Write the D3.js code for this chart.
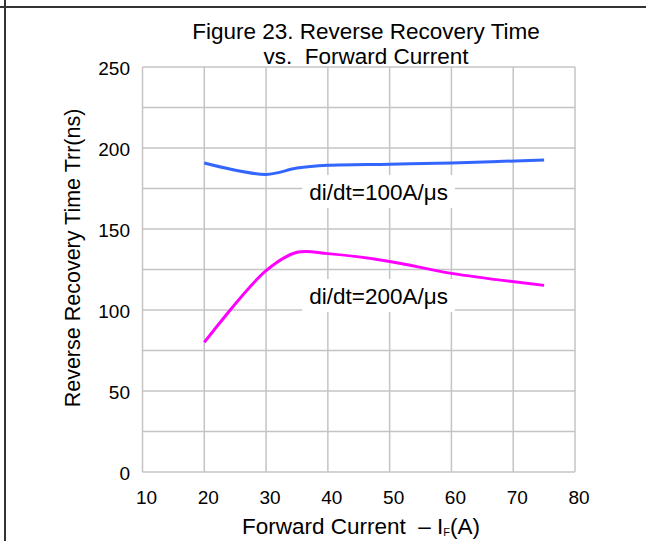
<!DOCTYPE html>
<meta charset="utf-8">
<script src="https://d3js.org/d3.v7.min.js"></script>
<style>
  body { margin: 0; background: #fff; }
  text { font-family: "Liberation Sans", Arial, sans-serif; fill: #000; }
</style>
<svg id="chart" width="646" height="541"></svg>
<script>

// data
var current  = [20, 30, 35, 40, 50, 60, 75];
var trr100   = [190.7, 183.7, 187.6, 189.3, 190.0, 190.8, 192.6];
var trr200   = [80.0, 124.3, 135.6, 134.8, 130.0, 122.6, 115.2];
var xTicks   = [10, 20, 30, 40, 50, 60, 70, 80];
var yTicks   = [0, 50, 100, 150, 200, 250];
var yGrid    = [0, 25, 50, 75, 100, 125, 150, 175, 200, 225, 250];
var labels   = ["di/dt=100A/\u03bcs", "di/dt=200A/\u03bcs"];
var labelPos = [[37.0, 167.9], [37.0, 103.7]];

var svg = d3.select("#chart");

var x = d3.scaleLinear().domain([10, 80]).range([142.5, 575]);
var y = d3.scaleLinear().domain([0, 250]).range([472, 67]);

// frame lines of the page
svg.append("line").attr("x1", 0).attr("x2", 646).attr("y1", 7).attr("y2", 7)
  .attr("stroke", "#333").attr("stroke-width", 2);
svg.append("line").attr("x1", 5).attr("x2", 5).attr("y1", 0).attr("y2", 541)
  .attr("stroke", "#333").attr("stroke-width", 2);

// grid
var grid = svg.append("g").attr("stroke", "#c4c4c4").attr("stroke-width", 1.5);
grid.selectAll(".v").data(xTicks).enter().append("line")
  .attr("x1", d => x(d)).attr("x2", d => x(d))
  .attr("y1", y(0)).attr("y2", y(250));
grid.selectAll(".h").data(yGrid).enter().append("line")
  .attr("x1", x(10)).attr("x2", x(80))
  .attr("y1", d => y(d)).attr("y2", d => y(d));

// tick labels
svg.selectAll(".xt").data(xTicks).enter().append("text")
  .attr("x", d => x(d) + 4).attr("y", 504)
  .attr("text-anchor", "middle").style("font-size", "19px")
  .text(d => d);
svg.selectAll(".yt").data(yTicks).enter().append("text")
  .attr("x", 130).attr("y", d => y(d) + 8)
  .attr("text-anchor", "end").style("font-size", "19px")
  .text(d => d);

// curves
var line = d3.line().curve(d3.curveCatmullRom.alpha(0.5))
  .x(d => x(d[0])).y(d => y(d[1]));

svg.append("path").datum(d3.zip(current, trr100))
  .attr("fill", "none").attr("stroke", "#3366ff").attr("stroke-width", 3)
  .attr("d", line);
svg.append("path").datum(d3.zip(current, trr200))
  .attr("fill", "none").attr("stroke", "#ff00ff").attr("stroke-width", 3)
  .attr("d", line);

// series labels on white boxes
labels.forEach(function(t, i) {
  var g = svg.append("g");
  var txt = g.append("text")
    .attr("x", x(labelPos[i][0])).attr("y", y(labelPos[i][1]))
    .style("font-size", "22.5px").text(t);
  var b = txt.node().getBBox();
  g.insert("rect", "text")
    .attr("x", b.x - 7).attr("y", b.y - 5)
    .attr("width", b.width + 14).attr("height", b.height + 8)
    .attr("fill", "#fff");
});

// title
svg.append("text").attr("x", 366).attr("y", 39)
  .attr("text-anchor", "middle").style("font-size", "22.5px")
  .text("Figure 23. Reverse Recovery Time");
svg.append("text").attr("x", 366).attr("y", 64)
  .attr("text-anchor", "middle").style("font-size", "22.5px")
  .text("vs.  Forward Current").attr("xml:space", "preserve");

// axis titles
var xt = svg.append("text").attr("x", 242).attr("y", 534)
  .style("font-size", "22.5px").attr("xml:space", "preserve");
xt.append("tspan").text("Forward Current  \u2013 I");
xt.append("tspan").text("F").style("font-size", "11px").attr("dy", 2);
xt.append("tspan").text("(A)").attr("dy", -2);

svg.append("text")
  .attr("transform", "translate(80,258) rotate(-90)")
  .attr("text-anchor", "middle").style("font-size", "21.5px")
  .text("Reverse Recovery Time Trr(ns)");

</script>
